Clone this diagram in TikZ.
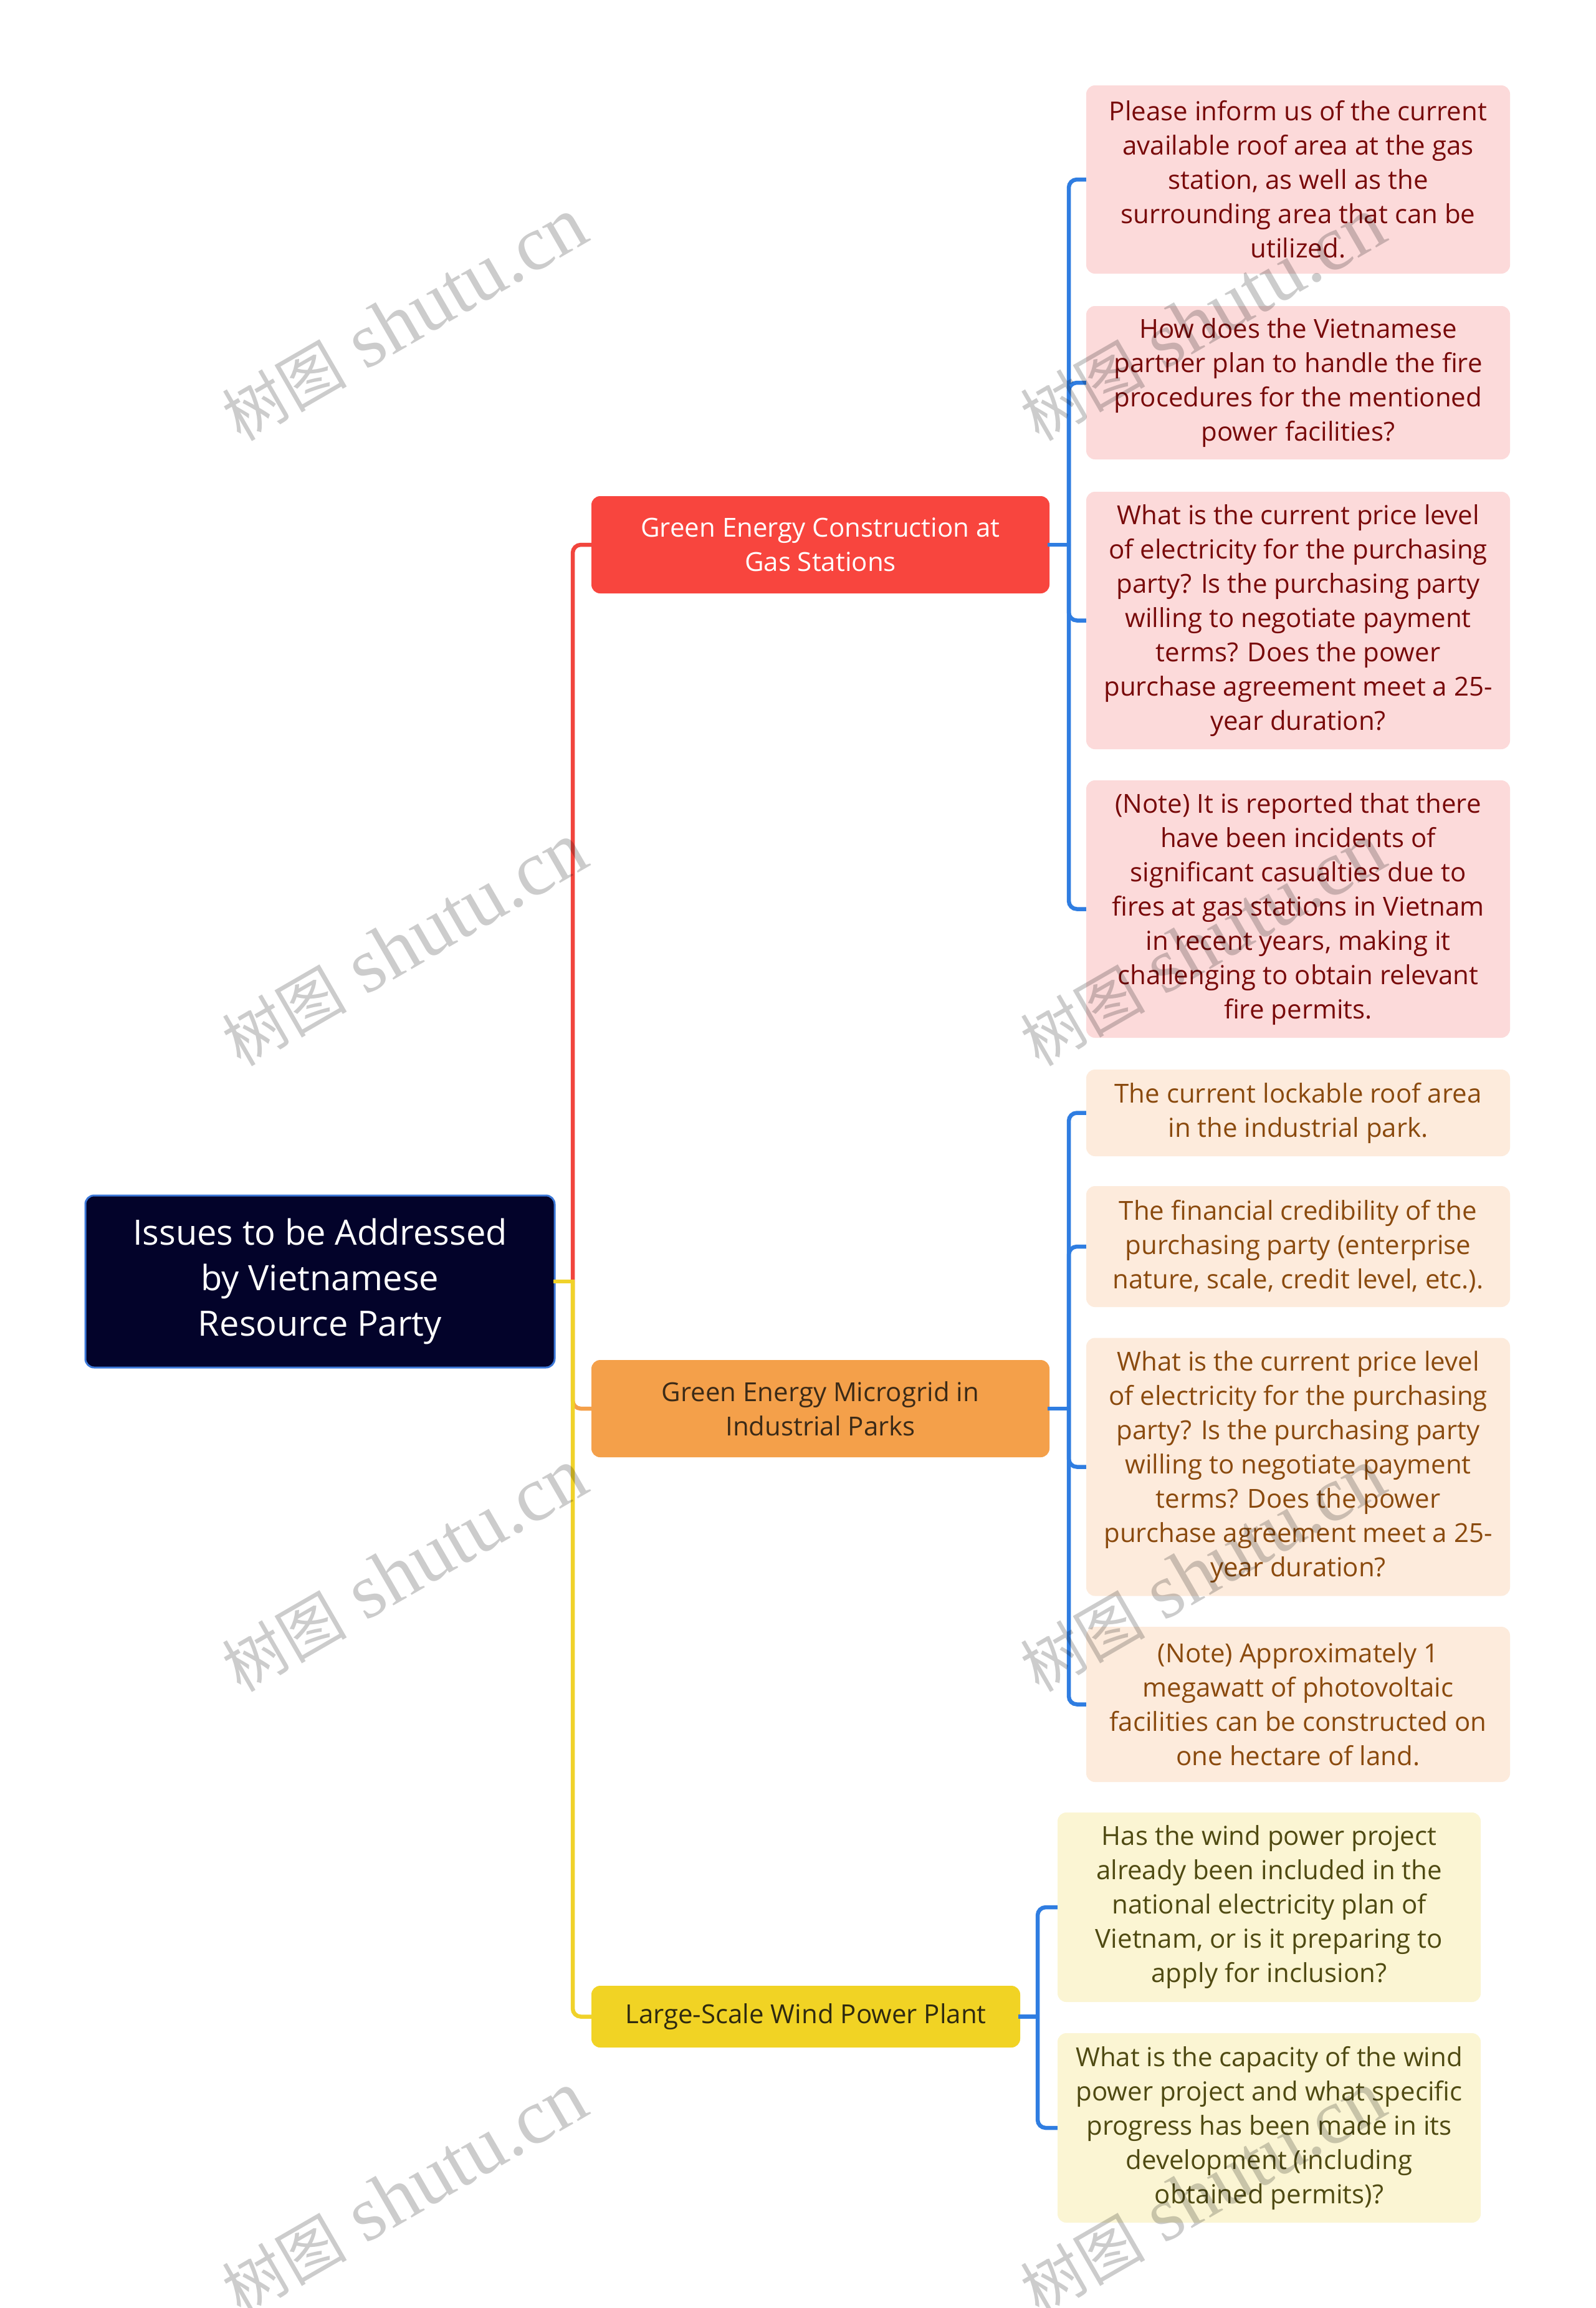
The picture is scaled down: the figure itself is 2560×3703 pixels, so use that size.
\documentclass[tikz,border=0pt]{standalone}
\usepackage{fontspec}
\setmainfont{Open Sans}
\newfontfamily\cjk{Noto Sans CJK SC}
\newfontfamily\wmfont{Liberation Serif}
\definecolor{rootF}{HTML}{03032A}
\definecolor{rootB}{HTML}{3C78D8}
\definecolor{redF}{HTML}{F8453E}
\definecolor{orgF}{HTML}{F4A04A}
\definecolor{yelF}{HTML}{F1D324}
\definecolor{pinkF}{HTML}{FCDADA}
\definecolor{pinkT}{HTML}{780A0A}
\definecolor{peachF}{HTML}{FDEBDC}
\definecolor{peachT}{HTML}{8A4A0E}
\definecolor{creamF}{HTML}{FBF5D3}
\definecolor{creamT}{HTML}{4F4A12}
\definecolor{orgT}{HTML}{3B2A17}
\definecolor{yelT}{HTML}{2F2A10}
\definecolor{blueC}{HTML}{2F7DE1}
\definecolor{redC}{HTML}{F1453D}
\definecolor{orgC}{HTML}{F4A04A}
\definecolor{yelC}{HTML}{F0D22A}
\tikzset{
  basebox/.style={rounded corners=14pt, inner sep=0pt, align=center, font=\fontsize{42}{55}\selectfont},
  rootbox/.style={basebox, fill=rootF, draw=rootB, line width=3pt, text=white, font=\fontsize{56}{73}\selectfont},
  lred/.style={basebox, fill=redF, text=white, minimum width=735pt, minimum height=156pt},
  lorg/.style={basebox, fill=orgF, text=orgT, minimum width=735pt, minimum height=156pt},
  lyel/.style={basebox, fill=yelF, text=yelT, minimum width=688pt, minimum height=99pt},
  leafR/.style={basebox, fill=pinkF, text=pinkT, minimum width=680pt},
  leafO/.style={basebox, fill=peachF, text=peachT, minimum width=680pt},
  leafY/.style={basebox, fill=creamF, text=creamT, minimum width=679pt},
  conn/.style={line width=6.5pt},
  rconn/.style={conn, rounded corners=13pt},
  wm/.style={text=black, opacity=0.2, rotate=30, font=\wmfont\fontsize{125}{125}\selectfont}
}
\begin{document}
\begin{tikzpicture}[x=1pt,y=-1pt]
\fill[white] (0,0) rectangle (2560,3703);
\useasboundingbox (0,0) rectangle (2560,3703);

% root and main branches
\node[rootbox, minimum width=753pt, minimum height=276pt] (root) at (513.5,2056) {Issues to be Addressed\\by Vietnamese\\Resource Party};
\node[lred] (gas) at (1316.5,874) {Green Energy Construction at\\Gas Stations};
\node[lorg] (micro) at (1316.5,2260) {Green Energy Microgrid in\\Industrial Parks};
\node[lyel] (wind) at (1293,3235.5) {Large-Scale Wind Power Plant};

% gas station leaves
\node[leafR, minimum height=302pt] (p1) at (2083,288) {Please inform us of the current\\available roof area at the gas\\station, as well as the\\surrounding area that can be\\utilized.};
\node[leafR, minimum height=246pt] (p2) at (2083,614) {How does the Vietnamese\\partner plan to handle the fire\\procedures for the mentioned\\power facilities?};
\node[leafR, minimum height=413pt] (p3) at (2083,995.5) {What is the current price level\\of electricity for the purchasing\\party? Is the purchasing party\\willing to negotiate payment\\terms? Does the power\\purchase agreement meet a 25-\\year duration?};
\node[leafR, minimum height=413pt] (p4) at (2083,1458.5) {(Note) It is reported that there\\have been incidents of\\significant casualties due to\\fires at gas stations in Vietnam\\in recent years, making it\\challenging to obtain relevant\\fire permits.};

% industrial park leaves
\node[leafO, minimum height=139pt] (o1) at (2083,1785.5) {The current lockable roof area\\in the industrial park.};
\node[leafO, minimum height=194pt] (o2) at (2083,2000) {The financial credibility of the\\purchasing party (enterprise\\nature, scale, credit level, etc.).};
\node[leafO, minimum height=414pt] (o3) at (2083,2353.5) {What is the current price level\\of electricity for the purchasing\\party? Is the purchasing party\\willing to negotiate payment\\terms? Does the power\\purchase agreement meet a 25-\\year duration?};
\node[leafO, minimum height=249pt] (o4) at (2083,2734.5) {(Note) Approximately 1\\megawatt of photovoltaic\\facilities can be constructed on\\one hectare of land.};

% wind leaves
\node[leafY, minimum height=304pt] (y1) at (2036.5,3060) {Has the wind power project\\already been included in the\\national electricity plan of\\Vietnam, or is it preparing to\\apply for inclusion?};
\node[leafY, minimum height=304pt] (y2) at (2036.5,3414) {What is the capacity of the wind\\power project and what specific\\progress has been made in its\\development (including\\obtained permits)?};

% root connectors
\coordinate (tj) at (919,2056);
\draw[conn, redC, line cap=rect] (root.east) -- (tj);
\draw[rconn, redC] (tj) |- (gas.west);
\draw[conn, orgC, line cap=rect] (root.east) -- (tj);
\draw[rconn, orgC] (tj) |- (micro.west);
\draw[conn, yelC, line cap=rect] (root.east) -- (tj);
\draw[rconn, yelC] (tj) |- (wind.west);

% gas connectors
\coordinate (gj) at (1715,874);
\draw[conn, blueC, line cap=rect] (gas.east) -- (gj);
\foreach \n in {p1,p2,p3,p4} \draw[rconn, blueC] (gj) |- (\n.west);

% microgrid connectors
\coordinate (mj) at (1715,2260);
\draw[conn, blueC, line cap=rect] (micro.east) -- (mj);
\foreach \n in {o1,o2,o3,o4} \draw[rconn, blueC] (mj) |- (\n.west);

% wind connectors
\coordinate (wj) at (1665,3235.5);
\draw[conn, blueC, line cap=rect] (wind.east) -- (wj);
\foreach \n in {y1,y2} \draw[rconn, blueC] (wj) |- (\n.west);

% watermarks
\foreach \yy [count=\i] in {513,1516,2520,3519} {
  \node[wm] (wl\i) at (649,\yy) {{\cjk\fontsize{100}{100}\selectfont 树图} shutu.cn};
  \node[wm] (wr\i) at (1930,\yy) {{\cjk\fontsize{100}{100}\selectfont 树图} shutu.cn};
}
\end{tikzpicture}
\end{document}
